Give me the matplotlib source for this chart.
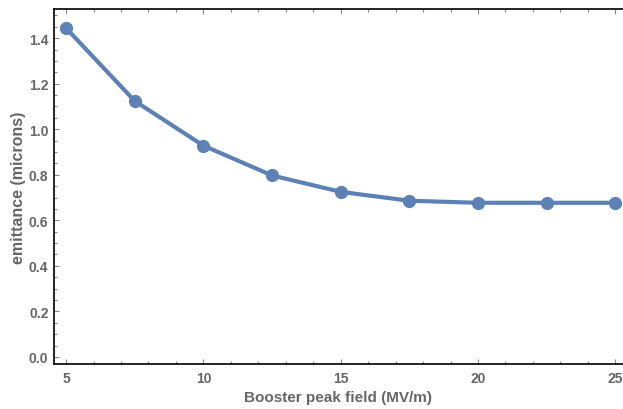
import matplotlib.pyplot as plt
from matplotlib.ticker import MultipleLocator

field = [5, 7.5, 10, 12.5, 15, 17.5, 20, 22.5, 25]
emittance = [1.444, 1.124, 0.928, 0.797, 0.725, 0.686, 0.677, 0.677, 0.677]

plt.rcParams['font.family'] = ['Liberation Sans', 'DejaVu Sans']

fig = plt.figure(figsize=(6.23, 4.10), dpi=100)
ax = fig.add_axes([54 / 623, 45 / 410, 569 / 623, 355 / 410])

ax.plot(field, emittance, color='#5E81B5', lw=3, marker='o', ms=8.5, clip_on=False, zorder=3)

ax.set_xlim(4.56, 25.28)
ax.set_ylim(-0.031, 1.528)

ax.xaxis.set_major_locator(MultipleLocator(5))
ax.xaxis.set_minor_locator(MultipleLocator(1))
ax.yaxis.set_major_locator(MultipleLocator(0.2))
ax.yaxis.set_minor_locator(MultipleLocator(0.05))
ax.yaxis.set_major_formatter(plt.FormatStrFormatter('%.1f'))

ax.tick_params(which='both', direction='in', top=True, right=False, color='#888888', width=0.8,
               labelsize=10, labelcolor='#666666')
ax.tick_params(which='major', length=3.5)
ax.tick_params(which='minor', length=2)
ax.tick_params(axis='x', pad=5)
ax.tick_params(axis='y', pad=4)
for lab in ax.get_xticklabels() + ax.get_yticklabels():
    lab.set_fontweight('bold')

ax.spines['right'].set_visible(False)
for s in ['left', 'bottom', 'top']:
    ax.spines[s].set_linewidth(1.2)
    ax.spines[s].set_color('black')

ax.set_xlabel('Booster peak field (MV/m)', fontsize=11, fontweight='bold', color='#666666', labelpad=4)
ax.set_ylabel('emittance (microns)', fontsize=11.5, fontweight='bold', color='#666666', labelpad=2)

fig.savefig('out.png', dpi=100)
